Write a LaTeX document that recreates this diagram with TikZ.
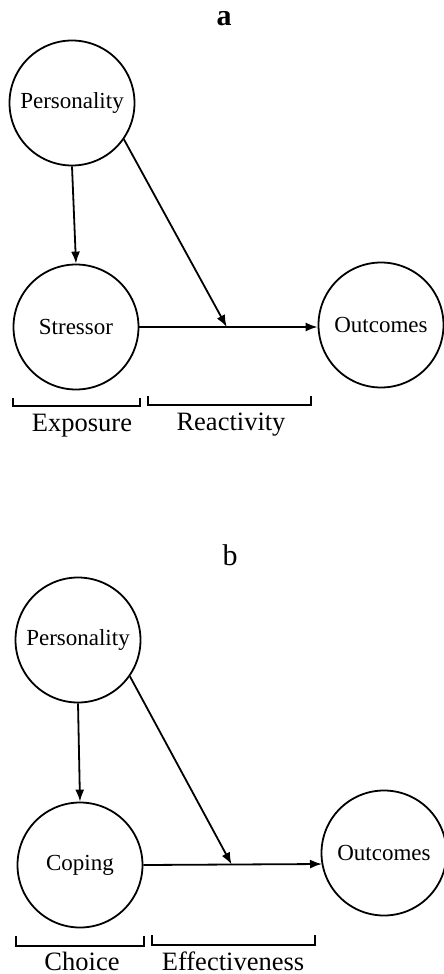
\documentclass[tikz,border=0pt]{standalone}
\usepackage{fontspec}
\setmainfont{Liberation Serif}
\usetikzlibrary{arrows.meta,calc}
\begin{document}
\begin{tikzpicture}[x=1pt,y=-1pt,
  circ/.style={circle,draw,line width=1.8pt,minimum size=125pt,inner sep=0pt,font=\fontsize{23}{26}\selectfont},
  conn/.style={line width=1.8pt,-{Latex[length=12pt,width=9pt]}},
  brk/.style={line width=1.6pt},
  lbl/.style={font=\fontsize{26.5}{30}\selectfont,anchor=base,inner sep=0pt},
  title/.style={font=\fontsize{30}{34}\selectfont,anchor=base,inner sep=0pt}]
\useasboundingbox (0,0) rectangle (444,974);
% ---- panel a
\node[title] (ta) at (224,26) {\textbf{a}};
\node[circ] (pa) at (72,103) {Personality};
\node[circ] (sa) at (76,327) {Stressor};
\node[circ] (oa) at (381,325) {Outcomes};
\draw[conn] (pa.south) -- (sa.north);
\draw[conn] (sa.east) -- (sa.east -| oa.west);
\coordinate (ma) at ($(sa.east)!0.49!(sa.east -| oa.west)$);
\draw[conn] (pa.-35) -- (ma);
\coordinate (ba1) at (13,398); \coordinate (ba2) at (13,406);
\coordinate (ba3) at (140,406); \coordinate (ba4) at (140,398);
\draw[brk] (ba1) -- (ba2) -- (ba3) -- (ba4);
\coordinate (bb1) at (148,396); \coordinate (bb2) at (148,405);
\coordinate (bb3) at (311,405); \coordinate (bb4) at (311,396);
\draw[brk] (bb1) -- (bb2) -- (bb3) -- (bb4);
\node[lbl] (la1) at (82,431) {Exposure};
\node[lbl] (la2) at (231,430) {Reactivity};
% ---- panel b
\node[title] (tb) at (230,565) {b};
\node[circ] (pb) at (78,640) {Personality};
\node[circ] (cb) at (80,865) {Coping};
\node[circ] (ob) at (384,853) {Outcomes};
\draw[conn] (pb.south) -- (cb.north);
\coordinate (eb) at ($(ob.center)+(-62,11)$);
\draw[conn] (cb.east) -- (eb);
\coordinate (mb) at ($(cb.east)!0.494!(eb)$);
\draw[conn] (pb.-35) -- (mb);
\coordinate (bc1) at (16,936); \coordinate (bc2) at (16,946);
\coordinate (bc3) at (144,946); \coordinate (bc4) at (144,936);
\draw[brk] (bc1) -- (bc2) -- (bc3) -- (bc4);
\coordinate (bd1) at (152,935); \coordinate (bd2) at (152,945);
\coordinate (bd3) at (315,945); \coordinate (bd4) at (315,935);
\draw[brk] (bd1) -- (bd2) -- (bd3) -- (bd4);
\node[lbl] (lb1) at (82,970) {Choice};
\node[lbl] (lb2) at (233,970) {Effectiveness};
\end{tikzpicture}
\end{document}
